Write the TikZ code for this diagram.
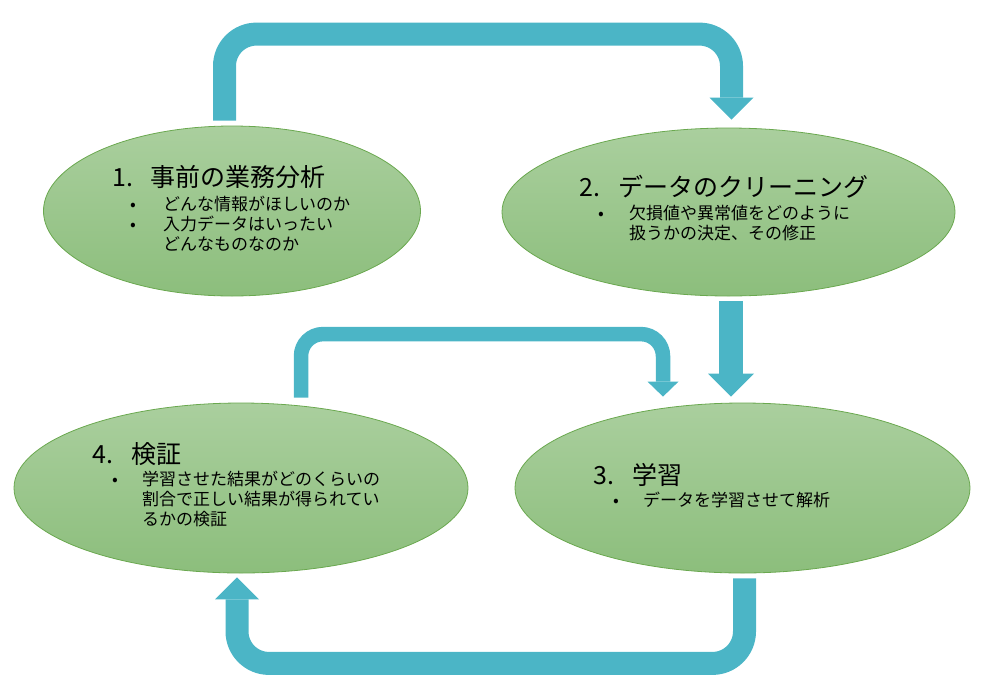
\documentclass[tikz,border=0pt]{standalone}
\usepackage{fontspec}
\setmainfont{Noto Sans CJK JP}
\usetikzlibrary{shapes.geometric,arrows.meta}

\definecolor{flowblue}{RGB}{75,181,198}
\definecolor{leaftop}{RGB}{170,207,158}
\definecolor{leafbot}{RGB}{140,190,124}
\definecolor{leafrim}{RGB}{106,168,79}

\tikzset{
  stage/.style={ellipse, draw=leafrim, line width=0.8pt, top color=leaftop, bottom color=leafbot, inner sep=0pt},
  stagehead/.style={anchor=base west, inner sep=0pt, font=\fontsize{25}{30}\selectfont},
  stageitem/.style={anchor=base west, inner sep=0pt, font=\fontsize{17}{20}\selectfont},
  stagedot/.style={anchor=base, inner sep=0pt, font=\fontsize{17}{20}\selectfont},
  flow/.style={draw=flowblue, line width=#1, rounded corners=32pt}
}

\begin{document}
\begin{tikzpicture}[x=1pt,y=-1pt]
    \useasboundingbox (0,0) rectangle (983,697);
    \foreach \n/\x/\y/\w/\h in {1/232/211/377/170, 2/728.5/212/453/168, 3/742.5/488/455/170, 4/241/488/454/170}
        {
        \node[stage, minimum width=\w pt, minimum height=\h pt] (e\n) at (\x,\y) {};
        }

    \node[stagehead] (h1) at (112,186) {\makebox[38pt][l]{1.}事前の業務分析};
    \node[stagehead] (h2) at (579,196) {\makebox[39pt][l]{2.}データのクリーニング};
    \node[stagehead] (h3) at (593,484) {\makebox[39pt][l]{3.}学習};
    \node[stagehead] (h4) at (92,463) {\makebox[39pt][l]{4.}検証};

    \node[stagedot] (d1a) at (133,210) {•};
    \node[stagedot] (d1b) at (133,230) {•};
    \node[stageitem] (i1a) at (163,210) {どんな情報がほしいのか};
    \node[stageitem] (i1b) at (163,230) {\parbox[t]{250pt}{入力データはいったい\\どんなものなのか}};

    \node[stagedot] (d2a) at (601,219) {•};
    \node[stageitem] (i2a) at (629,219) {\parbox[t]{280pt}{欠損値や異常値をどのように\\扱うかの決定、その修正}};

    \node[stagedot] (d3a) at (616,506) {•};
    \node[stageitem] (i3a) at (643,506) {データを学習させて解析};

    \node[stagedot] (d4a) at (115,485) {•};
    \node[stageitem] (i4a) at (142,485) {\parbox[t]{280pt}{学習させた結果がどのくらいの\\割合で正しい結果が得られてい\\るかの検証}};

    \draw[flow=23pt, -{Triangle[width=44pt,length=22pt,line width=0pt]}]
        ([xshift=-7.5pt,yshift=5pt]e1.north) -- ++(0,-86.5) -| ([xshift=3pt,yshift=8pt]e2.north);
    \draw[flow=24pt, -{Triangle[width=46pt,length=23pt,line width=0pt]}]
        ([xshift=2.5pt,yshift=-5pt]e2.south) -- ([xshift=-11.5pt,yshift=6pt]e3.north);
    \draw[flow=23pt, -{Triangle[width=44pt,length=22pt,line width=0pt]}]
        ([xshift=2pt,yshift=-5pt]e3.south) -- ++(0,85) -| ([xshift=-4pt,yshift=-4pt]e4.south);
    \draw[flow=14.5pt, rounded corners=22pt, -{Triangle[width=31pt,length=15pt,line width=0pt]}]
        ([xshift=60pt,yshift=5pt]e4.north) -- ++(0,-63.5) -| ([xshift=-79.5pt,yshift=6pt]e3.north);
\end{tikzpicture}
\end{document}
